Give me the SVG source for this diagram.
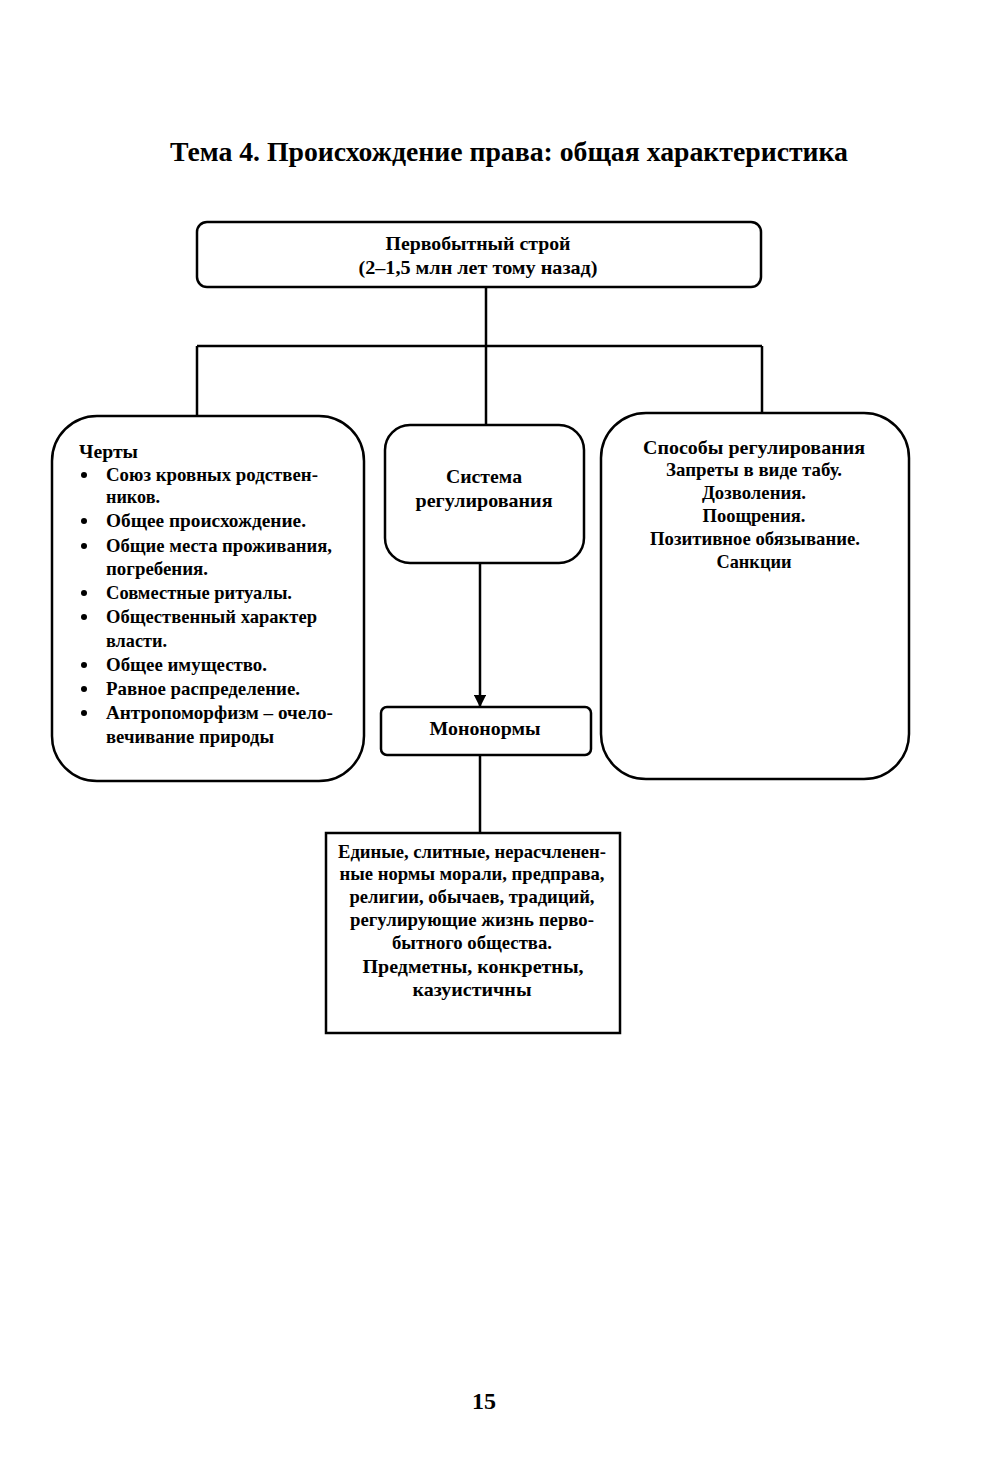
<svg xmlns="http://www.w3.org/2000/svg" width="1000" height="1475" viewBox="0 0 1000 1475">
<defs>
<style>
text{font-family:"Liberation Serif","Times New Roman",serif;font-weight:bold;fill:#000}
.t{font-size:19px}
.c{text-anchor:middle}
.box{fill:#fff;stroke:#000;stroke-width:2.5}
.ln{fill:none;stroke:#000;stroke-width:2.5}
</style>
<marker id="arr" viewBox="0 0 10 10" refX="9" refY="5" markerWidth="5" markerHeight="5" orient="auto" markerUnits="strokeWidth">
<path d="M0,0 L10,5 L0,10 z" fill="#000"/>
</marker>
</defs>
<rect width="1000" height="1475" fill="#fff"/>
<text x="509" y="161" class="c" style="font-size:27px" textLength="678" lengthAdjust="spacingAndGlyphs">Тема 4. Происхождение права: общая характеристика</text>

<g id="connectors">
<path class="ln" d="M486,287 V346 M197,346 H762 M197,346 V418 M486,346 V425 M762,346 V413"/>
<path class="ln" d="M480,563 V706" marker-end="url(#arr)"/>
<path class="ln" d="M480,755 V833"/>
</g>

<g id="top">
<rect class="box" x="197" y="222" width="564" height="65" rx="10"/>
<text x="478" y="250" class="t c" textLength="185" lengthAdjust="spacingAndGlyphs">Первобытный строй</text>
<text x="478" y="274" class="t c" textLength="239" lengthAdjust="spacingAndGlyphs">(2–1,5 млн лет тому назад)</text>
</g>

<g id="cherty">
<rect class="box" x="52" y="416" width="312" height="365" rx="45"/>
<text x="79" y="458" class="t" textLength="59" lengthAdjust="spacingAndGlyphs">Черты</text>
<circle cx="84" cy="475" r="3"/><text x="106" y="481" class="t" textLength="212" lengthAdjust="spacingAndGlyphs">Союз кровных родствен-</text>
<text x="106" y="503" class="t" textLength="54" lengthAdjust="spacingAndGlyphs">ников.</text>
<circle cx="84" cy="521" r="3"/><text x="106" y="527" class="t" textLength="200" lengthAdjust="spacingAndGlyphs">Общее происхождение.</text>
<circle cx="84" cy="546" r="3"/><text x="106" y="552" class="t" textLength="226" lengthAdjust="spacingAndGlyphs">Общие места проживания,</text>
<text x="106" y="575" class="t" textLength="102" lengthAdjust="spacingAndGlyphs">погребения.</text>
<circle cx="84" cy="593" r="3"/><text x="106" y="599" class="t" textLength="186" lengthAdjust="spacingAndGlyphs">Совместные ритуалы.</text>
<circle cx="84" cy="617" r="3"/><text x="106" y="623" class="t" textLength="211" lengthAdjust="spacingAndGlyphs">Общественный характер</text>
<text x="106" y="647" class="t" textLength="61" lengthAdjust="spacingAndGlyphs">власти.</text>
<circle cx="84" cy="665" r="3"/><text x="106" y="671" class="t" textLength="161" lengthAdjust="spacingAndGlyphs">Общее имущество.</text>
<circle cx="84" cy="689" r="3"/><text x="106" y="695" class="t" textLength="194" lengthAdjust="spacingAndGlyphs">Равное распределение.</text>
<circle cx="84" cy="713" r="3"/><text x="106" y="719" class="t" textLength="227" lengthAdjust="spacingAndGlyphs">Антропоморфизм – очело-</text>
<text x="106" y="743" class="t" textLength="168" lengthAdjust="spacingAndGlyphs">вечивание природы</text>
</g>

<g id="sistema">
<rect class="box" x="385" y="425" width="199" height="138" rx="25"/>
<text x="484" y="483" class="t c" textLength="76" lengthAdjust="spacingAndGlyphs">Система</text>
<text x="484" y="507" class="t c" textLength="137" lengthAdjust="spacingAndGlyphs">регулирования</text>
</g>

<g id="mononormy">
<rect class="box" x="381" y="707" width="210" height="48" rx="6"/>
<text x="485" y="735" class="t c" textLength="111" lengthAdjust="spacingAndGlyphs">Мононормы</text>
</g>

<g id="opisanie">
<rect class="box" x="326" y="833" width="294" height="200"/>
<text x="472" y="858" class="t c" textLength="268" lengthAdjust="spacingAndGlyphs">Единые, слитные, нерасчленен-</text>
<text x="472" y="880" class="t c" textLength="265" lengthAdjust="spacingAndGlyphs">ные нормы морали, предправа,</text>
<text x="472" y="903" class="t c" textLength="245" lengthAdjust="spacingAndGlyphs">религии, обычаев, традиций,</text>
<text x="472" y="926" class="t c" textLength="244" lengthAdjust="spacingAndGlyphs">регулирующие жизнь перво-</text>
<text x="472" y="949" class="t c" textLength="160" lengthAdjust="spacingAndGlyphs">бытного общества.</text>
<text x="473" y="973" class="t c" textLength="221" lengthAdjust="spacingAndGlyphs">Предметны, конкретны,</text>
<text x="472" y="996" class="t c" textLength="119" lengthAdjust="spacingAndGlyphs">казуистичны</text>
</g>

<g id="sposoby">
<rect class="box" x="601" y="413" width="308" height="366" rx="45"/>
<text x="754" y="454" class="t c" textLength="222" lengthAdjust="spacingAndGlyphs">Способы регулирования</text>
<text x="754" y="476" class="t c" textLength="176" lengthAdjust="spacingAndGlyphs">Запреты в виде табу.</text>
<text x="754" y="499" class="t c" textLength="104" lengthAdjust="spacingAndGlyphs">Дозволения.</text>
<text x="754" y="522" class="t c" textLength="103" lengthAdjust="spacingAndGlyphs">Поощрения.</text>
<text x="755" y="545" class="t c" textLength="210" lengthAdjust="spacingAndGlyphs">Позитивное обязывание.</text>
<text x="754" y="568" class="t c" textLength="75" lengthAdjust="spacingAndGlyphs">Санкции</text>
</g>

<text x="484" y="1409" class="c" style="font-size:23px" textLength="24" lengthAdjust="spacingAndGlyphs">15</text>
</svg>
